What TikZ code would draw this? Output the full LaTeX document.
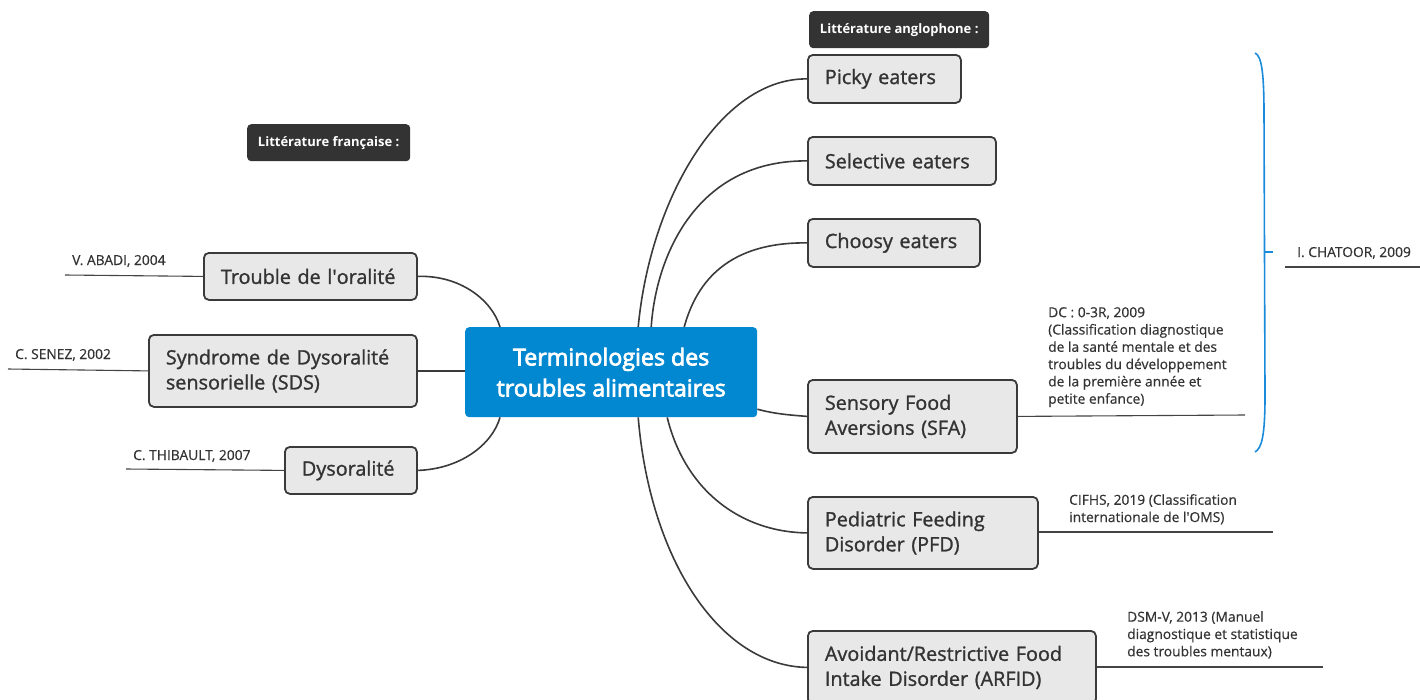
\documentclass[tikz,border=0pt]{standalone}
\usepackage{fontspec}
\setmainfont{Open Sans}
\newfontfamily\topicfont{Open Sans}[FakeBold=1.2]
\newfontfamily\centerfont{Open Sans}[FakeBold=3]
\newfontfamily\citefont{Open Sans}[FakeBold=0.5]
\usetikzlibrary{calc}
\definecolor{edgec}{HTML}{3A3A3A}
\definecolor{boxfill}{HTML}{E8E8E8}
\definecolor{centerblue}{HTML}{0288D1}
\definecolor{darklabc}{HTML}{333333}
\definecolor{txtc}{HTML}{333333}
\definecolor{citec}{HTML}{444444}
\definecolor{bracec}{HTML}{1A8BDB}
\tikzset{
  topic/.style={draw=edgec, fill=boxfill, line width=1.8pt, rounded corners=5pt,
    anchor=north west, inner xsep=17pt, inner ysep=0pt, align=left,
    font=\topicfont\fontsize{19.8}{25}\selectfont, text=txtc},
  central/.style={fill=centerblue, rounded corners=4pt, anchor=north west,
    align=center, text=white, inner sep=0pt, font=\centerfont\fontsize{23.2}{31}\selectfont},
  darklab/.style={fill=darklabc, rounded corners=4pt, anchor=north west,
    text=white, inner sep=0pt, font=\bfseries\fontsize{13}{15}\selectfont},
  conn/.style={draw=edgec, line width=1.6pt},
  citeline/.style={draw=citec, line width=1.1pt},
  citetext/.style={inner sep=0pt, align=left, text=txtc,
    font=\citefont\fontsize{13.8}{17.3}\selectfont},
  bracestyle/.style={draw=bracec, line width=1.6pt},
}
\begin{document}
\begin{tikzpicture}[x=1pt,y=-1pt]
\useasboundingbox (0,0) rectangle (1420,699);

% central topic
\node[central, minimum width=292, minimum height=90] (center) at (465,327)
  {Terminologies des\\troubles alimentaires};

% header labels
\node[darklab, minimum width=163, minimum height=37] (fr) at (247,124) {Littérature française :};
\node[darklab, minimum width=180, minimum height=37] (en) at (809,11) {Littérature anglophone :};

% left topics
\node[topic, minimum width=213, minimum height=47, text width=179] (trouble) at (203,252) {Trouble de l\textquotesingle oralité};
\node[topic, minimum width=268, minimum height=72, text width=234] (sds) at (148,334) {Syndrome de Dysoralité\\sensorielle (SDS)};
\node[topic, minimum width=132, minimum height=47, text width=98] (dys) at (284,446) {Dysoralité};

% right topics
\node[topic, minimum width=153, minimum height=48, text width=119] (picky) at (807,54) {Picky eaters};
\node[topic, minimum width=188, minimum height=48, text width=154] (selective) at (807,136) {Selective eaters};
\node[topic, minimum width=172, minimum height=48, text width=138] (choosy) at (807,218) {Choosy eaters};
\node[topic, minimum width=209, minimum height=73, text width=175] (sfa) at (807,379) {Sensory Food\\Aversions (SFA)};
\node[topic, minimum width=230, minimum height=72, text width=196] (pfd) at (807,496) {Pediatric Feeding\\Disorder (PFD)};
\node[topic, minimum width=288, minimum height=73, text width=254] (arfid) at (807,630) {Avoidant/Restrictive Food\\Intake Disorder (ARFID)};

% connectors, left
\draw[conn] (trouble.east) .. controls (460,275) and (492,300) .. ([xshift=35pt]center.north west);
\draw[conn] (sds.east) -- (sds.east -| center.west);
\draw[conn] (dys.east) .. controls (460,469) and (492,445) .. ([xshift=35pt]center.south west);

% connectors, right
\draw[conn] ([xshift=27pt]center.north) .. controls (650,200) and (720,78) .. (picky.west);
\draw[conn] ([xshift=40pt]center.north) .. controls (656,255) and (697,160) .. (selective.west);
\draw[conn] ([xshift=73pt]center.north) .. controls (697,280) and (730,242) .. (choosy.west);
\draw[conn] ([yshift=-37pt]center.east) .. controls (775,414) and (790,415) .. (sfa.west);
\draw[conn] ([xshift=56pt]center.south) .. controls (685,490) and (740,532) .. (pfd.west);
\draw[conn] ([xshift=27pt]center.south) .. controls (650,560) and (720,666) .. (arfid.west);

% citations, left
\coordinate (abadiEnd) at (65,275);
\coordinate (senezEnd) at (8,369);
\coordinate (thibEnd) at (126,469);
\draw[citeline] (trouble.west) -- (abadiEnd);
\draw[citeline] (sds.west) -- (senezEnd);
\draw[citeline] (dys.west) -- (thibEnd);
\node[citetext, anchor=base west] (abadi) at (72,265) {V. ABADI, 2004};
\node[citetext, anchor=base west] (senez) at (15,359) {C. SENEZ, 2002};
\node[citetext, anchor=base west] (thib) at (133,460) {C. THIBAULT, 2007};

% citations, right
\coordinate (dcEnd) at (1245,415);
\coordinate (cifEnd) at (1273,532);
\coordinate (dsmEnd) at (1323,667);
\draw[citeline] (sfa.east) -- (dcEnd);
\draw[citeline] (pfd.east |- cifEnd) -- (cifEnd);
\draw[citeline] (arfid.east |- dsmEnd) -- (dsmEnd);
\node[citetext, anchor=north west] (dc) at (1048,307)
  {DC : 0-3R, 2009\\(Classification diagnostique\\de la santé mentale et des\\troubles du développement\\de la première année et\\petite enfance)};
\node[citetext, anchor=north west] (cif) at (1069,494)
  {CIFHS, 2019 (Classification\\internationale de l\textquotesingle OMS)};
\node[citetext, anchor=north west] (dsm) at (1127,611)
  {DSM-V, 2013 (Manuel\\diagnostique et statistique\\des troubles mentaux)};

% brace and I. CHATOOR
\draw[bracestyle] (1255,53) .. controls (1262,56) and (1264,75) .. (1264,115)
  -- (1265,395) .. controls (1265,435) and (1262,448) .. (1255,452);
\coordinate (braceTip) at (1265,252);
\draw[bracestyle] (braceTip) -- ++(8,0);
\coordinate (chatA) at (1285,267);
\coordinate (chatB) at (1420,267);
\draw[citeline] (chatA) -- (chatB);
\node[citetext, anchor=base west] (chatoor) at (1297,257) {I. CHATOOR, 2009};
\end{tikzpicture}
\end{document}
